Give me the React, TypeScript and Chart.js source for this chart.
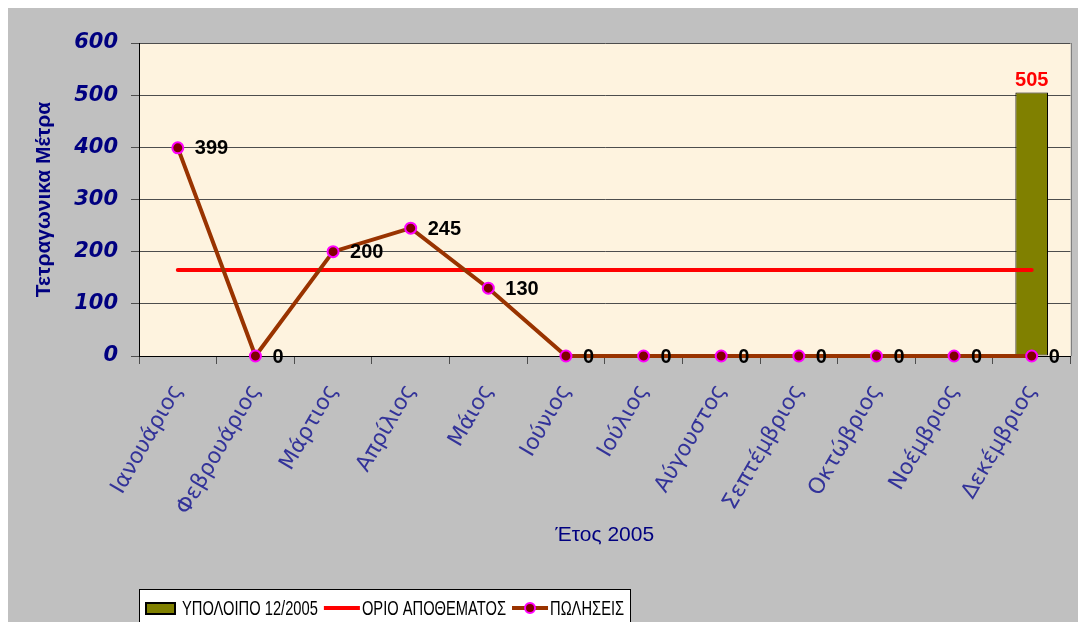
import React, { useEffect, useRef } from 'react';
import { Chart, registerables } from 'chart.js';

Chart.register(...registerables);

const months = [
  'Ιανουάριος', 'Φεβρουάριος', 'Μάρτιος', 'Απρίλιος', 'Μάιος', 'Ιούνιος',
  'Ιούλιος', 'Αύγουστος', 'Σεπτέμβριος', 'Οκτώβριος', 'Νοέμβριος', 'Δεκέμβριος',
];
const balance: (number | null)[] = [null, null, null, null, null, null, null, null, null, null, null, 505];
const stockLimit = [165, 165, 165, 165, 165, 165, 165, 165, 165, 165, 165, 165];
const sales = [399, 0, 200, 245, 130, 0, 0, 0, 0, 0, 0, 0];
const seriesNames = ['ΥΠΟΛΟΙΠΟ 12/2005', 'ΟΡΙΟ ΑΠΟΘΕΜΑΤΟΣ', 'ΠΩΛΗΣΕΙΣ'];
const xTitle = 'Έτος 2005';
const yTitle = 'Τετραγωνικα Μέτρα';
const yMin = 0;
const yMax = 600;
const yStep = 100;

const W = 1070;
const H = 614;

const backgroundPlugin = {
  id: 'bgPlugin',
  beforeDraw(chart: any) {
    const { ctx, chartArea } = chart;
    ctx.save();
    ctx.fillStyle = '#C0C0C0';
    ctx.fillRect(0, 0, chart.width, chart.height);
    ctx.fillStyle = '#FEF3DF';
    ctx.fillRect(chartArea.left, chartArea.top, chartArea.right - chartArea.left, chartArea.bottom - chartArea.top);
    ctx.restore();
  },
  beforeDatasetsDraw(chart: any) {
    const { ctx, chartArea } = chart;
    ctx.save();
    ctx.strokeStyle = '#808080';
    ctx.lineWidth = 1;
    ctx.beginPath();
    ctx.moveTo(Math.round(chartArea.right) + 0.5, chartArea.top);
    ctx.lineTo(Math.round(chartArea.right) + 0.5, chartArea.bottom);
    ctx.stroke();
    ctx.restore();
  },
};

const valueLabelPlugin = {
  id: 'valueLabels',
  afterDatasetsDraw(chart: any) {
    const { ctx } = chart;
    ctx.save();
    ctx.font = 'bold 20px "Liberation Sans", Arial';
    const salesMeta = chart.getDatasetMeta(2);
    ctx.fillStyle = '#000000';
    ctx.textAlign = 'left';
    ctx.textBaseline = 'middle';
    salesMeta.data.forEach((pt: any, i: number) => {
      const v = chart.data.datasets[2].data[i];
      if (v === null || v === undefined) return;
      ctx.fillText(String(v), pt.x + 17, pt.y + 1);
    });
    const barMeta = chart.getDatasetMeta(0);
    ctx.fillStyle = '#FF0000';
    ctx.textAlign = 'center';
    ctx.textBaseline = 'alphabetic';
    barMeta.data.forEach((bar: any, i: number) => {
      const v = chart.data.datasets[0].data[i];
      if (v === null || v === undefined) return;
      ctx.fillText(String(v), bar.x, bar.y - 7);
    });
    ctx.restore();
  },
};

// Legend drawn in a boxed row under the chart, with horizontally condensed text
const boxedLegendPlugin = {
  id: 'boxedLegend',
  afterDraw(chart: any) {
    const { ctx, chartArea } = chart;
    const ds = chart.data.datasets;
    const boxLeft = chartArea.left;
    const boxTop = 581;
    const cy = 600;
    const sx = 0.7;
    ctx.save();
    ctx.font = '21px "Liberation Sans", Arial';
    ctx.textBaseline = 'middle';
    ctx.textAlign = 'left';
    let x = boxLeft + 6;
    const parts: { draw: () => void }[] = [];
    ds.forEach((d: any) => {
      const ix = x;
      let iw = 36;
      let gap = 2;
      if (d.type === 'bar') {
        iw = 31;
        gap = 6;
        parts.push({
          draw: () => {
            ctx.fillStyle = d.backgroundColor;
            ctx.fillRect(ix, cy - 6, iw, 13);
            ctx.strokeStyle = '#000';
            ctx.lineWidth = 2;
            ctx.strokeRect(ix + 1, cy - 5, iw - 2, 11);
          },
        });
      } else {
        parts.push({
          draw: () => {
            ctx.fillStyle = d.borderColor;
            ctx.fillRect(ix, cy - 2, iw, 4);
            if (d.pointRadius > 0) {
              ctx.beginPath();
              ctx.arc(ix + iw / 2, cy, 5, 0, Math.PI * 2);
              ctx.fillStyle = d.pointBackgroundColor;
              ctx.fill();
              ctx.lineWidth = 2;
              ctx.strokeStyle = d.pointBorderColor;
              ctx.stroke();
            }
          },
        });
      }
      x += iw + gap;
      const tx = x;
      const text = d.label;
      const tw = ctx.measureText(text).width * sx;
      parts.push({
        draw: () => {
          ctx.save();
          ctx.translate(tx, cy + 1);
          ctx.scale(sx, 1);
          ctx.fillStyle = '#000';
          ctx.fillText(text, 0, 0);
          ctx.restore();
        },
      });
      x += tw + 6;
    });
    const boxRight = x;
    ctx.fillStyle = '#FFFFFF';
    ctx.fillRect(boxLeft, boxTop, boxRight - boxLeft, chart.height - boxTop);
    ctx.strokeStyle = '#000';
    ctx.lineWidth = 1;
    ctx.strokeRect(Math.round(boxLeft) + 0.5, boxTop + 0.5, Math.round(boxRight - boxLeft), chart.height);
    parts.forEach((p) => p.draw());
    ctx.restore();
  },
};

export default function App() {
  const canvasRef = useRef<HTMLCanvasElement | null>(null);

  useEffect(() => {
    if (!canvasRef.current) return;

    const chart = new Chart(canvasRef.current, {
      type: 'bar',
      data: {
        labels: months,
        datasets: [
          {
            type: 'bar',
            label: seriesNames[0],
            data: balance,
            backgroundColor: '#808000',
            borderColor: '#000000',
            borderWidth: 1,
            borderSkipped: false,
            barPercentage: 0.42,
            categoryPercentage: 1,
            order: 3,
          },
          {
            type: 'line',
            label: seriesNames[1],
            data: stockLimit,
            borderColor: '#FF0000',
            backgroundColor: '#FF0000',
            borderWidth: 4,
            borderCapStyle: 'round',
            pointRadius: 0,
            pointHoverRadius: 0,
            order: 2,
          },
          {
            type: 'line',
            label: seriesNames[2],
            data: sales,
            borderColor: '#993300',
            backgroundColor: '#800000',
            borderWidth: 4,
            pointRadius: 5.5,
            pointBackgroundColor: '#800000',
            pointBorderColor: '#FF00FF',
            pointBorderWidth: 2,
            clip: false,
            order: 1,
          },
        ] as any,
      },
      options: {
        responsive: false,
        animation: false,
        events: [],
        layout: { padding: { left: 0, right: 7, top: 35, bottom: 33 } },
        plugins: {
          tooltip: { enabled: false },
          title: { display: false },
          legend: { display: false },
        },
        scales: {
          x: {
            type: 'category',
            offset: true,
            grid: {
              offset: true,
              drawOnChartArea: false,
              drawTicks: true,
              tickLength: 8,
              color: '#4d4d4d',
            },
            border: { display: true, color: '#000000', width: 1 },
            ticks: {
              autoSkip: false,
              maxRotation: 60,
              minRotation: 60,
              padding: 16,
              color: '#333399',
              font: { family: '"DejaVu Sans"', size: 22 },
            },
            title: {
              display: true,
              text: xTitle,
              color: '#000080',
              font: { family: '"Liberation Sans", Arial', size: 21 },
              padding: { top: 0, bottom: 41 },
            },
            afterFit: (scale: any) => {
              scale.height = 233;
            },
          },
          y: {
            min: yMin,
            max: yMax,
            grid: {
              color: '#4d4d4d',
              lineWidth: 1,
              tickLength: 8,
            },
            border: { display: true, color: '#000000', width: 1 },
            ticks: {
              stepSize: yStep,
              padding: 13,
              color: '#000080',
              font: { family: '"DejaVu Sans"', size: 21, weight: 'bold', style: 'italic' },
            },
            title: {
              display: true,
              text: yTitle,
              color: '#000080',
              font: { family: '"Liberation Sans", Arial', size: 21, weight: 'bold' },
              padding: { top: 24, bottom: 0 },
            },
            afterFit: (scale: any) => {
              scale.width = 131;
            },
          },
        },
      } as any,
      plugins: [backgroundPlugin, valueLabelPlugin, boxedLegendPlugin],
    });

    return () => {
      chart.destroy();
    };
  }, []);

  return (
    <div style={{ position: 'fixed', left: 8, top: 8, width: W, height: H }}>
      <canvas ref={canvasRef} width={W} height={H} style={{ display: 'block', width: W, height: H }} />
    </div>
  );
}
